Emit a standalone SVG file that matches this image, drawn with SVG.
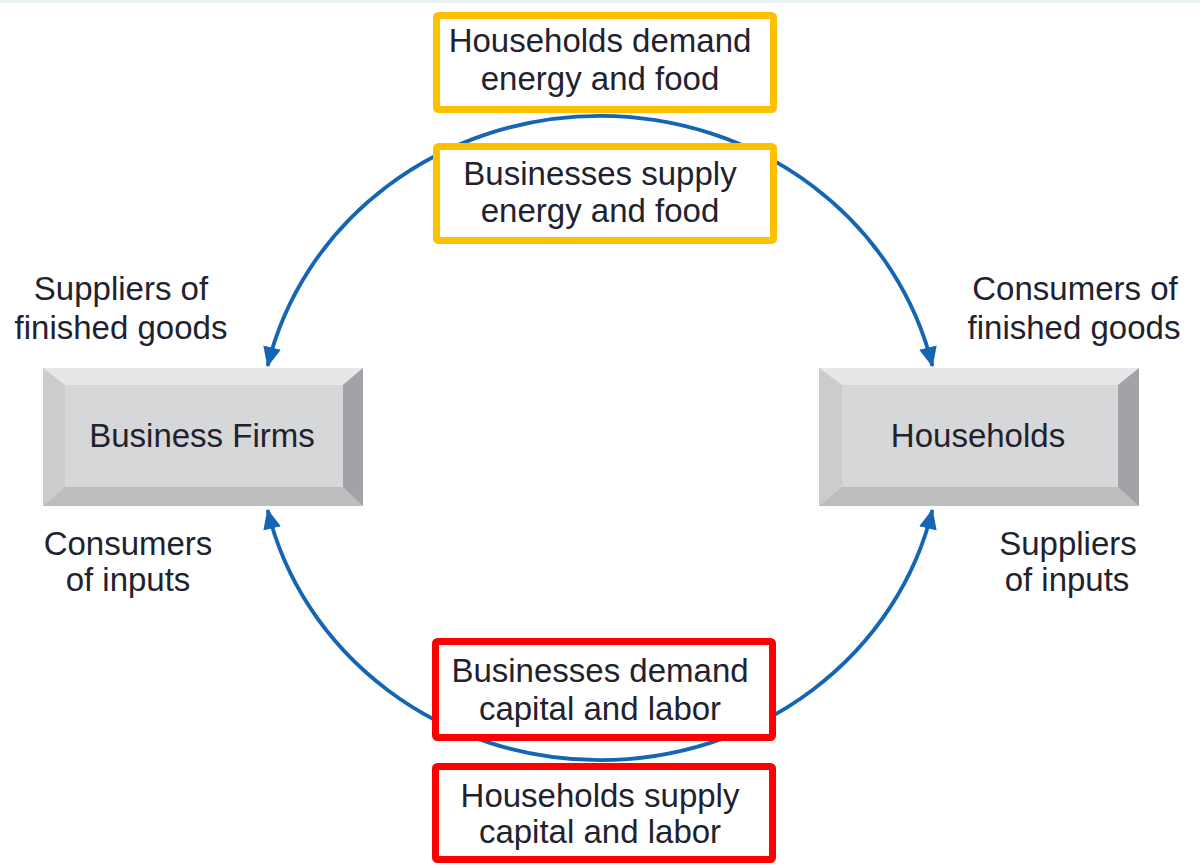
<svg xmlns="http://www.w3.org/2000/svg" width="1200" height="865" viewBox="0 0 1200 865">
<defs>
<style>
text{font-family:"Liberation Sans",Arial,sans-serif;font-size:33px;fill:#22222f;text-anchor:middle}
.arc{fill:none;stroke:#1565b5;stroke-width:3.8}
.yb{fill:#fff;stroke:#ffc000;stroke-width:7}
.rb{fill:#fff;stroke:#ff0000;stroke-width:7}
.face{fill:#d6d7d9}.bt{fill:#e6e7e8}.bl{fill:#cbccce}.bb{fill:#bcbdbf}.br{fill:#a2a3a6}
</style>
<marker id="ah" viewBox="0 0 20 18" refX="19" refY="9" markerWidth="20" markerHeight="18" markerUnits="userSpaceOnUse" orient="auto-start-reverse">
<path d="M0,0 L20,9 L0,18 Z" fill="#1565b5"/>
</marker>
</defs>
<rect x="0" y="0" width="1200" height="865" fill="#fff"/>
<rect x="0" y="0" width="1200" height="3" fill="#eaf2f2"/>
<g id="connectors">
<path class="arc" d="M267.6,366 A341,322 0 0 1 932.4,366" marker-start="url(#ah)" marker-end="url(#ah)"/>
<path class="arc" d="M267.6,510 A341,322 0 0 0 932.4,510" marker-start="url(#ah)" marker-end="url(#ah)"/>
</g>
<g id="business-firms">
<rect class="face" x="43" y="368" width="320" height="138"/>
<polygon class="bt" points="43,368 363,368 343,385 65,385"/>
<polygon class="bl" points="43,368 65,385 65,487 43,506"/>
<polygon class="bb" points="43,506 65,487 343,487 363,506"/>
<polygon class="br" points="363,368 363,506 343,487 343,385"/>
<text x="202" y="447">Business Firms</text>
</g>
<g id="households">
<rect class="face" x="819" y="368" width="320" height="138"/>
<polygon class="bt" points="819,368 1139,368 1118,385 842,385"/>
<polygon class="bl" points="819,368 842,385 842,487 819,506"/>
<polygon class="bb" points="819,506 842,487 1118,487 1139,506"/>
<polygon class="br" points="1139,368 1139,506 1118,487 1118,385"/>
<text x="978" y="447">Households</text>
</g>
<g id="label-suppliers-finished">
<text x="121" y="300">Suppliers of</text>
<text x="121" y="339">finished goods</text>
</g>
<g id="label-consumers-finished">
<text x="1075" y="300">Consumers of</text>
<text x="1074" y="339">finished goods</text>
</g>
<g id="label-consumers-inputs">
<text x="128" y="555">Consumers</text>
<text x="128" y="591">of inputs</text>
</g>
<g id="label-suppliers-inputs">
<text x="1068" y="555">Suppliers</text>
<text x="1067" y="591">of inputs</text>
</g>
<g id="households-demand">
<rect class="yb" x="436.5" y="15.5" width="337" height="94" rx="2"/>
<text x="600" y="52">Households demand</text>
<text x="600" y="90">energy and food</text>
</g>
<g id="businesses-supply">
<rect class="yb" x="436.5" y="146.5" width="337" height="94" rx="2"/>
<text x="600" y="185">Businesses supply</text>
<text x="600" y="222">energy and food</text>
</g>
<g id="businesses-demand">
<rect class="rb" x="435.5" y="641.5" width="337" height="96" rx="2"/>
<text x="600" y="682">Businesses demand</text>
<text x="600" y="720">capital and labor</text>
</g>
<g id="households-supply">
<rect class="rb" x="435.5" y="766.5" width="337" height="93" rx="2"/>
<text x="600" y="807">Households supply</text>
<text x="600" y="843">capital and labor</text>
</g>
</svg>
